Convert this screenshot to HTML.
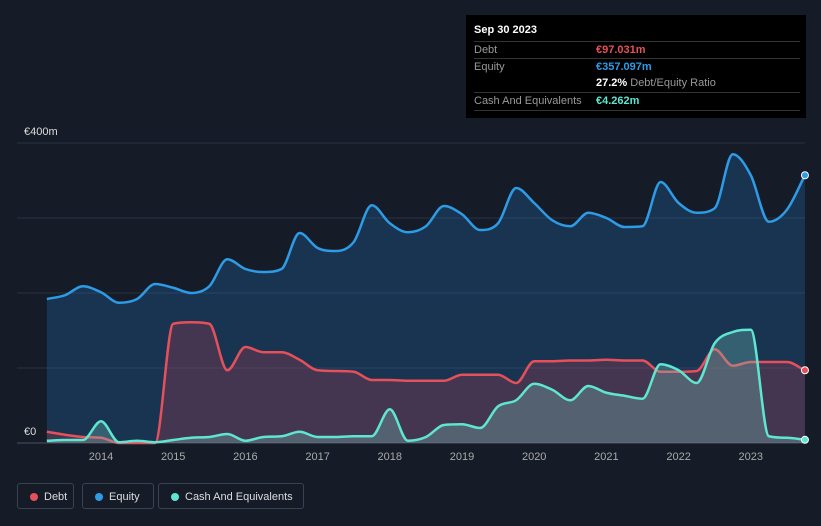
<!DOCTYPE html>
<html><head><meta charset="utf-8"><style>
body{margin:0;background:#151b27;width:821px;height:526px;overflow:hidden;font-family:"Liberation Sans",sans-serif}
#tt{position:absolute;left:466px;top:15px;width:340px;height:103px;background:#000;color:#fff;font-size:11px}
.row{position:absolute;left:8px;right:6px;border-top:1px solid #333;height:17px;line-height:17px;color:#999}
.v{position:absolute;left:122px;font-weight:bold}
.leg{position:absolute;top:483px;height:26px;border:1px solid #3a4150;border-radius:3px;color:#ddd;font-size:11px;line-height:26px;box-sizing:border-box;padding-left:26px}
.dot{position:absolute;left:12px;top:9px;width:8px;height:8px;border-radius:50%}
</style></head><body>
<svg id="ch" width="821" height="526" style="position:absolute;left:0;top:0"></svg>
<div id="tt">
<div style="position:absolute;left:8px;top:9px;font-weight:bold;font-size:11px">Sep 30 2023</div>
<div class="row" style="top:26px">Debt<span class="v" style="color:#e5505a">€97.031m</span></div>
<div class="row" style="top:43px">Equity<span class="v" style="color:#2d9be6">€357.097m</span></div>
<div class="row" style="top:60px;border-top:none"><span class="v" style="color:#fff">27.2% <span style="color:#999;font-weight:normal">Debt/Equity Ratio</span></span></div>
<div class="row" style="top:77px">Cash And Equivalents<span class="v" style="color:#5ee6d0">€4.262m</span></div>
<div class="row" style="top:95px;height:0"></div>
</div>
<div class="leg" style="left:17px;width:57px"><span class="dot" style="background:#e5505a"></span>Debt</div>
<div class="leg" style="left:82px;width:72px"><span class="dot" style="background:#2d9be6"></span>Equity</div>
<div class="leg" style="left:158px;width:146px"><span class="dot" style="background:#5ee6d0"></span>Cash And Equivalents</div>
<script>
const startYear=2013.25, step=0.25;
const equity=[192,197,209,201,187,192,212,207,200,209,245,232,228,232,280,260,256,268,317,293,281,289,316,305,284,293,340,320,297,289,307,300,288,289,348,320,307,313,385,357,295,311,357];
const debt=[15,11,8,7,0,0,0,159,161,159,97,128,121,121,111,97,96,95,84,84,83,83,83,91,91,91,80,109,109,110,110,111,110,110,95,95,96,125,103,108,108,108,97];
const cash=[3,4,4,29,1,3,1,4,7,8,12,3,8,9,15,8,8,9,9,45,3,8,24,25,20,49,57,79,71,57,76,67,63,59,105,97,80,133,148,151,9,7,4.3];
const yTicks=[0,400];const yTickLabels=["€0","€400m"];
const xTicks=[2014,2015,2016,2017,2018,2019,2020,2021,2022,2023];
const X=t=>101+(t-2014)*72.2;
const Y=v=>443-v*0.75;
const svg=document.getElementById('ch');const NS='http://www.w3.org/2000/svg';
function mk(tag,a,name){const e=document.createElementNS(NS,tag);for(const k in a)e.setAttribute(k,a[k]);


svg.appendChild(e);return e;}
function path(vals){const p=vals.map((v,i)=>[X(startYear+i*step),Y(v)]);const n=p.length;
const d=[],m=[];for(let i=0;i<n-1;i++)d.push((p[i+1][1]-p[i][1])/(p[i+1][0]-p[i][0]));
for(let i=0;i<n;i++){if(i==0)m.push(d[0]);else if(i==n-1)m.push(d[n-2]);else m.push(d[i-1]*d[i]<=0?0:(d[i-1]+d[i])/2);}
for(let i=0;i<n-1;i++){if(d[i]==0){m[i]=0;m[i+1]=0;continue;}const a=m[i]/d[i],b=m[i+1]/d[i],s=a*a+b*b;if(s>9){const t=3/Math.sqrt(s);m[i]=t*a*d[i];m[i+1]=t*b*d[i];}}
let s='M'+p[0][0]+','+p[0][1];for(let i=0;i<n-1;i++){const h=(p[i+1][0]-p[i][0])/3;
s+=`C${p[i][0]+h},${p[i][1]+m[i]*h} ${p[i+1][0]-h},${p[i+1][1]-m[i+1]*h} ${p[i+1][0]},${p[i+1][1]}`;}return s;}
[0,100,200,300,400].forEach(v=>mk('line',{x1:17,x2:805,y1:Y(v),y2:Y(v),stroke:v==0?'#4a5060':'#2c3342','stroke-width':1},'gridline'));
yTicks.forEach((v,i)=>{const t=mk('text',{x:24,y:Y(v)-8,fill:'#ddd','font-size':11},'y-tick-label');t.textContent=yTickLabels[i];});
xTicks.forEach(v=>{const t=mk('text',{x:X(v),y:460,fill:'#aaa','font-size':11,'text-anchor':'middle'},'x-tick-label');t.textContent=v;});
const x0=X(startYear),x1=X(startYear+(equity.length-1)*step),yb=Y(0);
const series=[[equity,'#2d9be6','rgba(35,100,160,0.35)','equity'],[debt,'#e5505a','rgba(150,60,80,0.35)','debt'],[cash,'#5ee6d0','rgba(120,200,190,0.3)','cash']];
series.forEach(([v,c,f,n])=>{const d=path(v);
mk('path',{d:d+`L${x1},${yb}L${x0},${yb}Z`,fill:f},n+'-area');
mk('path',{d:d,fill:'none',stroke:c,'stroke-width':2.5},n+'-line');
mk('circle',{cx:x1,cy:Y(v[v.length-1]),r:3.5,fill:c,stroke:'#fff','stroke-width':1},n+'-end-marker');});
</script>
</body></html>
